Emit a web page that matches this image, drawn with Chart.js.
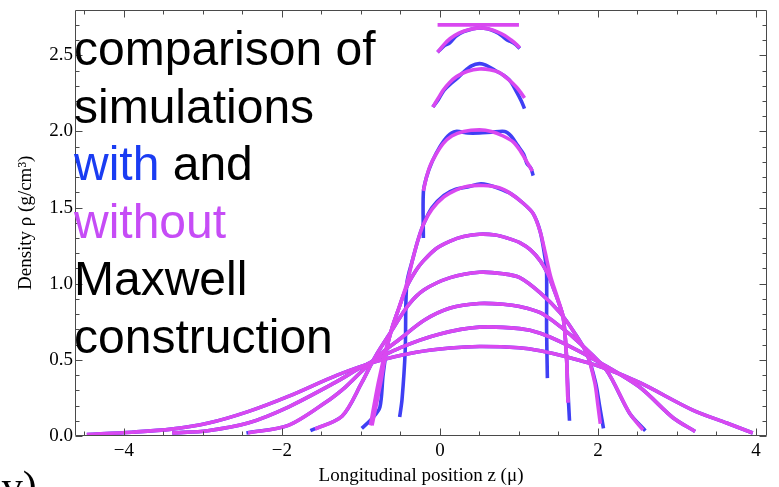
<!DOCTYPE html>
<html>
<head>
<meta charset="utf-8">
<script src="https://cdn.jsdelivr.net/npm/chart.js@4/dist/chart.umd.min.js"></script>
<style>
  html, body { margin: 0; padding: 0; background: #fff; overflow: hidden; }
  #wrap { position: relative; width: 779px; height: 487px; overflow: hidden; }
  #c { position: absolute; left: 0; top: 0; }
  #note {
    position: absolute; left: 74px; top: 20px;
    font-family: "Liberation Sans", Arial, sans-serif; font-size: 48px;
    line-height: 57.5px; color: #000; white-space: nowrap; pointer-events: none;
  }
  #note .w { color: #1a3cf2; }
  #note .wo { color: #c64cf6; }
  #panel {
    position: absolute; left: -24px; top: 465px;
    font-family: "Liberation Serif", "Times New Roman", serif; font-size: 42px;
    line-height: 42px; color: #000; white-space: nowrap;
  }
</style>
</head>
<body>
<div id="wrap">
  <canvas id="c" width="779" height="487"></canvas>
  <div id="note">comparison of<br>simulations<br><span class="w">with</span> and<br><span class="wo">without</span><br>Maxwell<br>construction</div>
  <div id="panel">(iv)</div>
</div>
<script>
// ---- axis ticks ----
const xMajorTicks = [-4, -2, 0, 2, 4];
const xMinorTicks = [-4.5, -3.5, -3, -2.5, -1.5, -1, -0.5, 0.5, 1, 1.5, 2.5, 3, 3.5];
const yMajorTicks = [0, 0.5, 1.0, 1.5, 2.0, 2.5];
const yMinorTicks = [0.1,0.2,0.3,0.4,0.6,0.7,0.8,0.9,1.1,1.2,1.3,1.4,1.6,1.7,1.8,1.9,2.1,2.2,2.3,2.4,2.6,2.7];

// ---- density profiles [z (µ), rho (g/cm^3)] : with Maxwell construction ----
const with1 = [[-0.03,2.52],[0.06,2.565],[0.12,2.58],[0.2,2.625],[0.3,2.655],[0.42,2.675],[0.5,2.68],[0.6,2.675],[0.7,2.655],[0.78,2.63],[0.85,2.6],[0.9,2.59],[0.96,2.57],[1.01,2.545]];
const with2 = [[-0.09,2.16],[-0.02,2.21],[0.05,2.27],[0.13,2.31],[0.22,2.35],[0.3,2.39],[0.4,2.43],[0.5,2.445],[0.58,2.435],[0.7,2.40],[0.8,2.37],[0.89,2.33],[0.97,2.26],[1.03,2.2],[1.07,2.15]];
const with3 = [[-0.21,1.30],[-0.21,1.60],[-0.17,1.70],[-0.1,1.80],[0.0,1.90],[0.1,1.97],[0.2,2.0],[0.35,1.99],[0.5,1.99],[0.65,1.995],[0.82,2.0],[0.9,1.97],[0.98,1.91],[1.06,1.85],[1.1,1.79],[1.15,1.76],[1.18,1.71]];
const with4 = [[-0.51,0.125],[-0.48,0.24],[-0.44,0.56],[-0.42,1.0],[-0.34,1.17],[-0.27,1.30],[-0.2,1.40],[-0.1,1.50],[0.05,1.58],[0.2,1.62],[0.35,1.635],[0.5,1.655],[0.6,1.65],[0.75,1.625],[0.9,1.59],[1.05,1.53],[1.18,1.46],[1.27,1.34],[1.33,1.17],[1.35,1.07],[1.35,0.7],[1.36,0.38]];
const with5 = [[-0.99,0.05],[-0.85,0.12],[-0.76,0.19],[-0.72,0.4],[-0.67,0.58],[-0.6,0.72],[-0.54,0.81],[-0.42,0.98],[-0.3,1.09],[-0.21,1.15],[-0.05,1.23],[0.13,1.28],[0.3,1.31],[0.5,1.325],[0.7,1.32],[0.85,1.3],[1.01,1.27],[1.15,1.22],[1.27,1.15],[1.36,1.07],[1.43,0.98],[1.5,0.88],[1.56,0.78],[1.6,0.54],[1.62,0.3],[1.64,0.10]];
const with6 = [[-1.64,0.035],[-1.24,0.13],[-0.99,0.35],[-0.82,0.52],[-0.6,0.70],[-0.4,0.86],[-0.2,0.96],[0.13,1.04],[0.5,1.075],[0.8,1.065],[1.01,1.04],[1.27,0.94],[1.52,0.81],[1.7,0.68],[1.86,0.54],[1.97,0.35],[2.02,0.2],[2.07,0.05]];
const with7 = [[-2.45,0.02],[-1.92,0.07],[-1.45,0.22],[-1.2,0.32],[-1.0,0.42],[-0.75,0.54],[-0.5,0.64],[-0.2,0.76],[0.13,0.84],[0.5,0.87],[0.8,0.865],[1.01,0.85],[1.27,0.81],[1.52,0.72],[1.77,0.61],[2.11,0.43],[2.4,0.15],[2.6,0.035]];
const with8 = [[-3.39,0.02],[-2.94,0.035],[-2.43,0.085],[-1.92,0.19],[-1.33,0.35],[-1.0,0.45],[-0.5,0.58],[0.0,0.67],[0.5,0.715],[1.01,0.705],[1.27,0.675],[1.6,0.6],[2.03,0.48],[2.53,0.32],[2.95,0.12],[3.23,0.03]];
const with9 = [[-4.47,0.01],[-3.9,0.025],[-3.4,0.045],[-2.93,0.085],[-2.43,0.16],[-1.92,0.26],[-1.3,0.40],[-0.8,0.49],[-0.3,0.55],[0.13,0.578],[0.5,0.588],[1.0,0.58],[1.27,0.56],[1.6,0.52],[2.06,0.45],[2.53,0.35],[3.2,0.17],[3.63,0.085],[3.96,0.02]];

// ---- density profiles : without Maxwell construction ----
const without0 = [[-0.03,2.70],[1.0,2.70]];
const without1 = [[-0.03,2.52],[0.05,2.57],[0.13,2.61],[0.24,2.645],[0.34,2.665],[0.5,2.68],[0.62,2.672],[0.72,2.655],[0.82,2.63],[0.9,2.6],[0.96,2.575],[1.01,2.55]];
const without2 = [[-0.09,2.16],[-0.02,2.22],[0.04,2.27],[0.12,2.32],[0.21,2.36],[0.35,2.395],[0.5,2.41],[0.63,2.405],[0.76,2.385],[0.87,2.34],[0.97,2.29],[1.03,2.25],[1.07,2.22]];
const without3 = [[-0.21,1.61],[-0.17,1.70],[-0.12,1.78],[-0.05,1.85],[0.04,1.92],[0.15,1.97],[0.3,2.0],[0.5,2.01],[0.65,2.0],[0.8,1.97],[0.93,1.93],[1.02,1.87],[1.1,1.80],[1.17,1.74]];
const without4 = [[-0.86,0.07],[-0.75,0.35],[-0.67,0.58],[-0.6,0.72],[-0.54,0.81],[-0.42,1.0],[-0.34,1.17],[-0.27,1.30],[-0.2,1.40],[-0.1,1.49],[0.05,1.57],[0.2,1.615],[0.35,1.64],[0.55,1.645],[0.75,1.63],[0.9,1.59],[1.05,1.53],[1.18,1.46],[1.27,1.34],[1.33,1.21],[1.4,1.05],[1.48,0.92],[1.56,0.78],[1.6,0.54],[1.62,0.22]];
const without5 = [[-0.88,0.07],[-0.78,0.35],[-0.67,0.6],[-0.6,0.72],[-0.54,0.81],[-0.42,0.98],[-0.3,1.09],[-0.21,1.15],[-0.05,1.23],[0.13,1.28],[0.3,1.31],[0.5,1.325],[0.7,1.32],[0.85,1.3],[1.01,1.27],[1.15,1.22],[1.27,1.15],[1.36,1.07],[1.43,0.98],[1.5,0.88],[1.56,0.78],[1.6,0.54],[1.62,0.22]];
const without6 = [[-1.58,0.045],[-1.24,0.13],[-0.99,0.35],[-0.82,0.52],[-0.6,0.70],[-0.4,0.86],[-0.2,0.96],[0.13,1.04],[0.5,1.075],[0.8,1.065],[1.01,1.04],[1.27,0.94],[1.52,0.81],[1.7,0.68],[1.86,0.54],[1.96,0.35],[2.0,0.2],[2.03,0.08]];
const without7 = [[-2.43,0.02],[-1.92,0.07],[-1.45,0.22],[-1.2,0.32],[-1.0,0.42],[-0.75,0.54],[-0.5,0.64],[-0.2,0.76],[0.13,0.84],[0.5,0.87],[0.8,0.865],[1.01,0.85],[1.27,0.81],[1.52,0.72],[1.77,0.61],[2.11,0.43],[2.4,0.15],[2.57,0.04]];
const without8 = [[-3.39,0.02],[-2.94,0.035],[-2.43,0.085],[-1.92,0.19],[-1.33,0.35],[-1.0,0.45],[-0.5,0.58],[0.0,0.67],[0.5,0.715],[1.01,0.705],[1.27,0.675],[1.6,0.6],[2.03,0.48],[2.53,0.32],[2.95,0.12],[3.23,0.03]];
const without9 = [[-4.47,0.01],[-3.9,0.025],[-3.4,0.045],[-2.93,0.085],[-2.43,0.16],[-1.92,0.26],[-1.3,0.40],[-0.8,0.49],[-0.3,0.55],[0.13,0.578],[0.5,0.588],[1.0,0.58],[1.27,0.56],[1.6,0.52],[2.06,0.45],[2.53,0.35],[3.2,0.17],[3.63,0.085],[3.96,0.02]];

const withSeries = [with1, with2, with3, with4, with5, with6, with7, with8, with9];
const withoutSeries = [without0, without1, without2, without3, without4, without5, without6, without7, without8, without9];

const BLUE = '#3f3ff4';
const MAGENTA = '#d948f0';

const toPts = arr => arr.map(p => ({x: p[0], y: p[1]}));
const datasets = [];
withoutSeries.forEach((s, i) => datasets.push({
  label: 'without ' + i, data: toPts(s), borderColor: MAGENTA, borderWidth: 3.6,
  showLine: true, pointRadius: 0, fill: false, tension: 0.3, order: 0
}));
withSeries.forEach((s, i) => datasets.push({
  label: 'with ' + (i + 1), data: toPts(s), borderColor: BLUE, borderWidth: 3.6,
  showLine: true, pointRadius: 0, fill: false, tension: 0.3, order: 1
}));

const frameTicks = {
  id: 'frameTicks',
  afterDraw(chart) {
    const {ctx, chartArea: a, scales: {x, y}} = chart;
    ctx.save();
    ctx.strokeStyle = '#4a4a4a';
    ctx.lineWidth = 1;
    const L = Math.round(a.left) + 0.5, R = Math.round(a.right) - 0.5;
    const T = Math.round(a.top) + 0.5, B = Math.round(a.bottom) - 0.5;
    ctx.beginPath();
    ctx.rect(L, T, R - L, B - T);
    const xt = (v, len) => {
      const px = Math.round(x.getPixelForValue(v)) + 0.5;
      ctx.moveTo(px, B); ctx.lineTo(px, B - len);
      ctx.moveTo(px, T); ctx.lineTo(px, T + len);
    };
    const yt = (v, len) => {
      const py = Math.round(y.getPixelForValue(v)) + 0.5;
      ctx.moveTo(L, py); ctx.lineTo(L + len, py);
      ctx.moveTo(R, py); ctx.lineTo(R - len, py);
    };
    xMajorTicks.forEach(v => xt(v, 7));
    xMinorTicks.forEach(v => xt(v, 4));
    yMajorTicks.forEach(v => yt(v, 7));
    yMinorTicks.forEach(v => yt(v, 4));
    ctx.stroke();
    ctx.restore();
  }
};

const serif = '"Liberation Serif", "Times New Roman", serif';

new Chart(document.getElementById('c'), {
  type: 'scatter',
  data: { datasets },
  options: {
    responsive: false,
    devicePixelRatio: 1,
    animation: false,
    layout: { padding: { top: 9.3, right: 12, left: 0, bottom: 0 } },
    plugins: { legend: { display: false }, tooltip: { enabled: false } },
    scales: {
      x: {
        type: 'linear', min: -4.62, max: 4.14,
        grid: { display: false, drawTicks: false },
        border: { display: false },
        afterFit: s => { s.height = 51; },
        afterBuildTicks: s => { s.ticks = xMajorTicks.map(v => ({value: v})); },
        ticks: {
          color: '#000', padding: 4, maxRotation: 0, autoSkip: false,
          font: { family: serif, size: 19 },
          callback: v => (v < 0 ? '\u2212' + Math.abs(v) : String(v))
        },
        title: {
          display: true, text: 'Longitudinal position z (\u03bc)', color: '#000',
          font: { family: serif, size: 19 }, padding: { top: 0, bottom: 0 }
        }
      },
      y: {
        type: 'linear', min: 0, max: 2.8,
        grid: { display: false, drawTicks: false },
        border: { display: false },
        afterFit: s => { s.width = 75; },
        afterBuildTicks: s => { s.ticks = yMajorTicks.map(v => ({value: v})); },
        ticks: {
          color: '#000', padding: 2, autoSkip: false,
          font: { family: serif, size: 19, lineHeight: 0.8 },
          callback: v => Number(v).toFixed(1)
        },
        title: {
          display: true, text: 'Density \u03c1 (g/cm\u00b3)', color: '#000',
          font: { family: serif, size: 19 }, padding: { top: 15, bottom: 0 }
        }
      }
    }
  },
  plugins: [frameTicks]
});
</script>
</body>
</html>
